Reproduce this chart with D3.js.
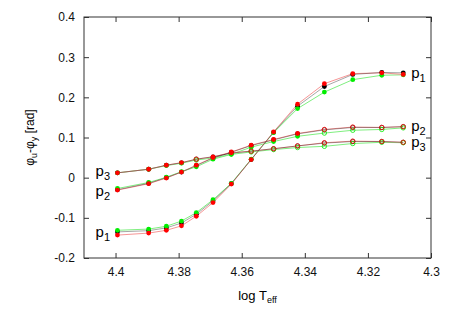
<!DOCTYPE html>
<html>
<head>
<meta charset="utf-8">
<script src="https://cdn.jsdelivr.net/npm/d3@7"></script>
<style>
  body { margin: 0; background: #fff; }
  text { font-family: "Liberation Sans", Arial, sans-serif; }
</style>
</head>
<body>
<svg id="chart" width="452" height="316"></svg>
<script>
'use strict';

// log Teff of each model
const logT = [4.3994, 4.3895, 4.3839, 4.3791, 4.3744, 4.3691, 4.3633, 4.357, 4.3499, 4.3423, 4.3338, 4.3248, 4.3156, 4.3088];

const p1Red   = [-0.143, -0.138, -0.131, -0.120, -0.096, -0.062, -0.016, 0.045, 0.114, 0.183, 0.234, 0.259, 0.261, 0.257];
const p1Green = [-0.131, -0.128, -0.121, -0.108, -0.087, -0.055, -0.014, 0.046, 0.112, 0.172, 0.213, 0.244, 0.255, 0.256];
const p1Black = [-0.135, -0.132, -0.125, -0.113, -0.091, -0.058, -0.015, 0.045, 0.113, 0.178, 0.227, 0.257, 0.262, 0.261];

const p2Red   = [-0.031, -0.015, -0.001, 0.014, 0.031, 0.050, 0.064, 0.081, 0.095, 0.110, 0.120, 0.126, 0.125, 0.127];
const p2Green = [-0.027, -0.012, 0.001, 0.015, 0.027, 0.046, 0.058, 0.076, 0.090, 0.103, 0.111, 0.118, 0.120, 0.124];
const p2Black = [-0.030, -0.014, 0.000, 0.014, 0.030, 0.049, 0.063, 0.080, 0.094, 0.109, 0.119, 0.125, 0.125, 0.127];
const p2Open  = [0, 0, 0, 0, 0, 0, 0, 0, 0, 0, 1, 1, 1, 1];

const p3Red   = [0.012, 0.021, 0.031, 0.0375, 0.046, 0.052, 0.062, 0.066, 0.072, 0.079, 0.087, 0.091, 0.090, 0.088];
const p3Green = [0.012, 0.021, 0.030, 0.036, 0.044, 0.049, 0.058, 0.064, 0.070, 0.075, 0.078, 0.085, 0.088, 0.087];
const p3Black = [0.012, 0.021, 0.031, 0.037, 0.046, 0.052, 0.061, 0.066, 0.072, 0.079, 0.086, 0.090, 0.090, 0.088];
const p3Open  = [0, 0, 0, 0, 1, 0, 0, 1, 1, 1, 1, 1, 1, 1];

const xTicks = [4.4, 4.38, 4.36, 4.34, 4.32, 4.3];
const yTicks = [-0.2, -0.1, 0, 0.1, 0.2, 0.3, 0.4];

const margin = { top: 17, right: 21, bottom: 58, left: 84 },
  width = 452 - margin.left - margin.right,
  height = 316 - margin.top - margin.bottom;

const svg = d3.select('#chart');
const g = svg.append('g')
  .attr('transform', 'translate(' + margin.left + ',' + margin.top + ')');

const x = d3.scaleLinear().domain([4.41, 4.30]).range([0, width]);
const y = d3.scaleLinear().domain([-0.2, 0.4]).range([height, 0]);

// axes, ticks inward, mirrored
const fmt = d => d === 0 ? '0' : String(+d.toFixed(2));
g.append('g').attr('transform', 'translate(0,' + height + ')')
  .call(d3.axisBottom(x).tickValues(xTicks).tickSize(-5).tickPadding(9).tickFormat(fmt));
g.append('g')
  .call(d3.axisTop(x).tickValues(xTicks).tickSize(-5).tickFormat(''));
g.append('g')
  .call(d3.axisLeft(y).tickValues(yTicks).tickSize(-5).tickPadding(9).tickFormat(fmt));
g.append('g').attr('transform', 'translate(' + width + ',0)')
  .call(d3.axisRight(y).tickValues(yTicks).tickSize(-5).tickFormat(''));

g.selectAll('.domain').remove();
g.selectAll('.tick line').attr('stroke', '#333');
g.selectAll('.tick text').style('font-size', '12px').attr('fill', '#111');

g.append('rect')
  .attr('width', width).attr('height', height)
  .attr('fill', 'none').attr('stroke', '#333').attr('stroke-width', 1);

const line = d3.line().x((d, i) => x(logT[i])).y(d => y(d));

const groups = [
  { red: p1Red, green: p1Green, black: p1Black, open: logT.map(() => 0) },
  { red: p2Red, green: p2Green, black: p2Black, open: p2Open },
  { red: p3Red, green: p3Green, black: p3Black, open: p3Open }
];

const styles = [
  { key: 'black', line: '#000', lineOpacity: 0.35, dot: '#000' },
  { key: 'green', line: '#7fef7f', lineOpacity: 1, dot: '#00ee00' },
  { key: 'red',   line: '#f58a8a', lineOpacity: 0.9, dot: '#ff0000' }
];

// lines first
['green', 'red', 'black'].forEach(k => {
  const s = styles.find(st => st.key === k);
  groups.forEach(grp => {
    g.append('path')
      .datum(grp[k])
      .attr('d', line)
      .attr('fill', 'none')
      .attr('stroke', s.line)
      .attr('stroke-opacity', s.lineOpacity)
      .attr('stroke-width', 1);
  });
});

// markers
styles.forEach(s => {
  groups.forEach(grp => {
    g.selectAll(null)
      .data(grp[s.key])
      .enter()
      .append('circle')
      .attr('cx', (d, i) => x(logT[i]))
      .attr('cy', d => y(d))
      .attr('r', (d, i) => grp.open[i] ? 2.2 : 2.4)
      .attr('fill', (d, i) => grp.open[i] ? 'none' : s.dot)
      .attr('stroke', (d, i) => grp.open[i] ? s.dot : 'none')
      .attr('stroke-opacity', s.key === 'black' ? 0.6 : 0.8)
      .attr('stroke-width', 1);
  });
});

// curve labels
const labels = [
  { n: '1', xv: 4.3088, yv: 0.258, dx: 8 },
  { n: '2', xv: 4.3088, yv: 0.126, dx: 8 },
  { n: '3', xv: 4.3088, yv: 0.086, dx: 8 },
  { n: '3', xv: 4.4, yv: 0.013, dx: -20 },
  { n: '2', xv: 4.4, yv: -0.036, dx: -20 },
  { n: '1', xv: 4.4, yv: -0.138, dx: -20 }
];
labels.forEach(l => {
  const t = g.append('text')
    .attr('x', x(l.xv) + l.dx)
    .attr('y', y(l.yv) + 4)
    .style('font-size', '15px');
  t.append('tspan').text('p');
  t.append('tspan').attr('dy', 4).style('font-size', '11px').text(l.n);
});

// axis titles
const xt = svg.append('text')
  .attr('x', margin.left + width / 2)
  .attr('y', 300)
  .attr('text-anchor', 'middle')
  .style('font-size', '13px');
xt.append('tspan').text('log T');
xt.append('tspan').attr('dy', 3).style('font-size', '9px').text('eff');

const yt = svg.append('text')
  .attr('transform', 'translate(34,' + (margin.top + height / 2) + ') rotate(-90)')
  .attr('text-anchor', 'middle')
  .style('font-size', '12px');
yt.append('tspan').text('φ');
yt.append('tspan').attr('dy', 3).style('font-size', '9px').text('u');
yt.append('tspan').attr('dy', -3).text('-φ');
yt.append('tspan').attr('dy', 3).style('font-size', '9px').text('y');
yt.append('tspan').attr('dy', -3).text(' [rad]');
</script>
</body>
</html>
